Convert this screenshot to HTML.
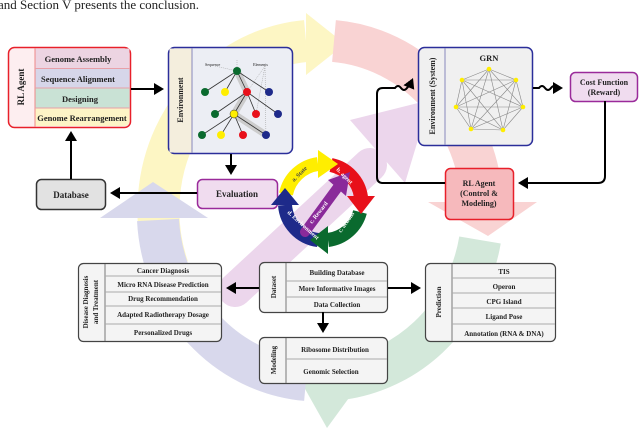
<!DOCTYPE html>
<html><head><meta charset="utf-8"><style>
html,body{margin:0;padding:0;background:#fff;width:640px;height:443px;overflow:hidden;}
svg{display:block;overflow:hidden;}
text{font-family:"Liberation Serif",serif;font-weight:bold;fill:#222;}
</style></head><body>
<svg width="640" height="443" viewBox="0 0 640 443" xmlns="http://www.w3.org/2000/svg">
<defs>
<marker id="ah" markerWidth="6" markerHeight="6" refX="4" refY="3" orient="auto" markerUnits="strokeWidth"><path d="M0,0 L5,3 L0,6 z" fill="#000"/></marker>
</defs>
<text x="-2" y="9" font-size="13" style="font-weight:normal" fill="#222">and Section V presents the conclusion.</text>

<g>
<path d="M168,268 A162,170 0 0 1 306,41" fill="none" stroke="#fdf6c4" stroke-width="42"/>
<polygon points="306,13 345,44 306,75" fill="#fdf6c4"/>
<path d="M334,41 A162,170 0 0 1 482,204" fill="none" stroke="#f9d3d3" stroke-width="42"/>
<polygon points="428,202 537,202 488,236" fill="#f9d3d3"/>
<path d="M480,240 A162,170 0 0 1 331,380" fill="none" stroke="#d3e8da" stroke-width="42"/>
<polygon points="300,380 362,380 327,428" fill="#d3e8da"/>
<path d="M306,380 A162,170 0 0 1 158,220" fill="none" stroke="#d8d8ec" stroke-width="42"/>
<polygon points="100,218 208,218 153,182" fill="#d8d8ec"/>
<line x1="235" y1="290" x2="370" y2="165" stroke="#ecd6ec" stroke-width="34" stroke-linecap="round"/>
<polygon points="350,120 430,100 405,183" fill="#ecd6ec"/>
</g>

<!-- RL Agent box -->
<rect x="8.5" y="47.5" width="122" height="80" rx="6" fill="#fdeef0" stroke="#e8202a" stroke-width="1.5"/>
<rect x="35" y="48.5" width="94.5" height="20" fill="#ecd4e2"/>
<rect x="35" y="68.5" width="94.5" height="19.5" fill="#d6d6e9"/>
<rect x="35" y="88" width="94.5" height="20" fill="#c9e2d5"/>
<path d="M35,108 H129.5 V121 a5,5 0 0 1 -5,5 H35z" fill="#fdf4c6"/>
<line x1="35" y1="48" x2="35" y2="127" stroke="#e88" />
<g stroke="#e8a0a8" stroke-width="1"><line x1="35" y1="68.5" x2="130" y2="68.5"/><line x1="35" y1="88" x2="130" y2="88"/><line x1="35" y1="108" x2="130" y2="108"/></g>
<text x="24" y="87" font-size="9" text-anchor="middle" transform="rotate(-90 24 87)">RL Agent</text>
<g font-size="8.5" text-anchor="middle"><text x="78" y="62">Genome Assembly</text><text x="78" y="82">Sequence Alignment</text><text x="80" y="102">Designing</text><text x="82" y="121">Genome Rearrangement</text></g>
<line x1="131" y1="89" x2="162" y2="89" stroke="#000" stroke-width="2" marker-end="url(#ah)"/>

<!-- Environment box -->
<rect x="168.5" y="47.5" width="124" height="106" rx="6" fill="#eceef4" stroke="#2b2e9a" stroke-width="1.5"/>
<rect x="169.5" y="48.5" width="22" height="104" fill="#f4eedd"/>
<line x1="192" y1="48" x2="192" y2="153" stroke="#8888bb"/>
<text x="183" y="100" font-size="8" text-anchor="middle" transform="rotate(-90 183 100)">Environment</text>
<text x="205" y="66" font-size="4" style="font-weight:normal">Sequence</text>
<text x="253" y="66" font-size="4" style="font-weight:normal">Elements</text>
<path d="M237,71 L247,92 L234,114 L266,135" fill="none" stroke="#ccc" stroke-width="7" stroke-linecap="round" stroke-linejoin="round"/>
<g stroke="#999" stroke-width="0.5" stroke-dasharray="1,1"><line x1="237" y1="60" x2="237" y2="71"/><line x1="265" y1="66" x2="247" y2="92"/><line x1="265" y1="66" x2="256" y2="114"/><line x1="265" y1="66" x2="266" y2="140"/><line x1="215" y1="66" x2="237" y2="71"/></g>
<g stroke="#333" stroke-width="0.8">
<line x1="237" y1="71" x2="205" y2="92"/><line x1="237" y1="71" x2="225" y2="92"/><line x1="237" y1="71" x2="247" y2="92"/><line x1="237" y1="71" x2="269" y2="92"/>
<line x1="247" y1="92" x2="215" y2="114"/><line x1="247" y1="92" x2="234" y2="114"/><line x1="247" y1="92" x2="256" y2="114"/><line x1="247" y1="92" x2="278" y2="114"/>
<line x1="234" y1="114" x2="202" y2="135"/><line x1="234" y1="114" x2="221" y2="135"/><line x1="234" y1="114" x2="243" y2="135"/><line x1="234" y1="114" x2="266" y2="135"/>
</g>
<g>
<circle cx="237" cy="71" r="4" fill="#0a6a2e"/>
<circle cx="205" cy="92" r="4" fill="#0a6a2e"/><circle cx="225" cy="92" r="4" fill="#ffee00"/><circle cx="247" cy="92" r="4" fill="#e8101a"/><circle cx="269" cy="92" r="4" fill="#1e2a8a"/>
<circle cx="215" cy="114" r="4" fill="#0a6a2e"/><circle cx="234" cy="114" r="4" fill="#ffee00" stroke="#333" stroke-width="0.5"/><circle cx="256" cy="114" r="4" fill="#e8101a"/><circle cx="278" cy="114" r="4" fill="#1e2a8a"/>
<circle cx="202" cy="135" r="4" fill="#0a6a2e"/><circle cx="221" cy="135" r="4" fill="#ffee00"/><circle cx="243" cy="135" r="4" fill="#e8101a"/><circle cx="266" cy="135" r="4" fill="#1e2a8a"/>
</g>
<line x1="231" y1="154" x2="231" y2="173" stroke="#000" stroke-width="2" marker-end="url(#ah)"/>

<!-- Evaluation -->
<rect x="197.5" y="179.5" width="80" height="29" rx="5" fill="#f0dcef" stroke="#9a2a9a" stroke-width="1.5"/>
<text x="237" y="197" font-size="9" text-anchor="middle">Evaluation</text>
<line x1="197" y1="193" x2="112" y2="193" stroke="#000" stroke-width="2" marker-end="url(#ah)"/>
<!-- Database -->
<rect x="36.5" y="179.5" width="69" height="30" rx="5" fill="#e2e2e2" stroke="#333" stroke-width="1.5"/>
<text x="71" y="198" font-size="9" text-anchor="middle">Database</text>
<line x1="71" y1="179" x2="71" y2="133" stroke="#000" stroke-width="2" marker-end="url(#ah)"/>

<!-- GRN -->
<rect x="418.5" y="47.5" width="114" height="98" rx="6" fill="#f0f0f0" stroke="#2b2e9a" stroke-width="1.5"/>
<line x1="445" y1="48" x2="445" y2="145" stroke="#8888bb"/>
<text x="435" y="96" font-size="8" text-anchor="middle" transform="rotate(-90 435 96)">Environment (System)</text>
<text x="489" y="61" font-size="8.5" text-anchor="middle">GRN</text>
<g stroke="#888" stroke-width="0.6" fill="none">
<path d="M489,69 L462,80 M489,69 L516,80 M489,69 L456,107 M489,69 L523,107 M489,69 L471,129 M489,69 L503,130
M462,80 L516,80 M462,80 L456,107 M462,80 L523,107 M462,80 L471,129 M462,80 L503,130
M516,80 L456,107 M516,80 L523,107 M516,80 L471,129 M516,80 L503,130
M456,107 L523,107 M456,107 L471,129 M456,107 L503,130
M523,107 L471,129 M523,107 L503,130 M471,129 L503,130"/>
</g>
<g fill="#ffee00"><circle cx="489" cy="69" r="2.3"/><circle cx="462" cy="80" r="2.3"/><circle cx="516" cy="80" r="2.3"/><circle cx="456" cy="107" r="2.3"/><circle cx="523" cy="107" r="2.3"/><circle cx="471" cy="129" r="2.3"/><circle cx="503" cy="130" r="2.3"/></g>

<!-- Cost function -->
<rect x="570.5" y="72.5" width="67" height="29" rx="5" fill="#f0dcef" stroke="#9a2a9a" stroke-width="1.5"/>
<text x="604" y="85" font-size="8" text-anchor="middle">Cost Function</text>
<text x="604" y="95" font-size="8" text-anchor="middle">(Reward)</text>
<!-- RL agent red -->
<rect x="445.5" y="168.5" width="68" height="51" rx="5" fill="#f6b9bc" stroke="#e8202a" stroke-width="1.5"/>
<text x="479" y="186" font-size="8" text-anchor="middle">RL Agent</text>
<text x="479" y="196" font-size="8" text-anchor="middle">(Control &amp;</text>
<text x="479" y="206" font-size="8" text-anchor="middle">Modeling)</text>
<path d="M445,183 H383 Q377,183 377,177 V94 Q377,88 383,88 H395 q3,-4 6,0 t6,0 t6,0" fill="none" stroke="#000" stroke-width="2" marker-end="url(#ah)"/>
<path d="M533,88 h6 q3,-4 6,0 t6,0 t6,0 h4" fill="none" stroke="#000" stroke-width="2" marker-end="url(#ah)"/>
<path d="M605,101 V176 Q605,183 598,183 H520" fill="none" stroke="#000" stroke-width="2" marker-end="url(#ah)"/>

<!-- small cycle center (323,202) r38 -->
<g fill="none" stroke-width="14">
<path d="M331,165 A38,38 0 0 1 361,197" stroke="#e8101a"/>
<path d="M360,212 A38,38 0 0 1 328,240" stroke="#0a6a2e"/>
<path d="M318,240 A38,38 0 0 1 285,205" stroke="#1e2a8a"/>
<path d="M286,194 A38,38 0 0 1 318,164" stroke="#ffee00"/>
</g>
<polygon points="318,150 338,164 318,178" fill="#ffee00"/>
<polygon points="347,196 375,196 361,214" fill="#e8101a"/>
<polygon points="328,226 310,240 328,254" fill="#0a6a2e"/>
<polygon points="271,205 299,205 285,188" fill="#1e2a8a"/>
<line x1="305" y1="232" x2="338" y2="187" stroke="#8a2a9a" stroke-width="10" stroke-linecap="round"/>
<polygon points="328,180 350,172 346,196" fill="#8a2a9a"/>
<g font-size="6">
<text x="294" y="182" transform="rotate(-45 294 182)" style="fill:#444">a. State</text>
<text x="336" y="170" transform="rotate(45 336 170)" style="fill:#fff">b. agent</text>
<text x="341" y="233" transform="rotate(-55 341 233)" style="fill:#fff">c. actions</text>
<text x="287" y="213" transform="rotate(42 287 213)" style="fill:#fff">d. Environment</text>
<text x="312" y="224" transform="rotate(-52 312 224)" style="fill:#fff">c. Reward</text>
</g>

<!-- Disease box -->
<rect x="78.5" y="263.5" width="143" height="78" rx="5" fill="#f4f4f4" stroke="#444" stroke-width="1.2"/>
<line x1="105" y1="264" x2="105" y2="341" stroke="#777"/>
<g stroke="#aaa"><line x1="105" y1="276" x2="221" y2="276"/><line x1="105" y1="292" x2="221" y2="292"/><line x1="105" y1="306" x2="221" y2="306"/><line x1="105" y1="324" x2="221" y2="324"/></g>
<text x="88" y="302" font-size="7" text-anchor="middle" transform="rotate(-90 88 302)">Disease Diagnosis</text>
<text x="98" y="302" font-size="7" text-anchor="middle" transform="rotate(-90 98 302)">and Treatment</text>
<g font-size="7" text-anchor="middle"><text x="163" y="273">Cancer Diagnosis</text><text x="163" y="287">Micro RNA Disease Prediction</text><text x="163" y="301">Drug Recommendation</text><text x="163" y="317">Adapted Radiotherapy Dosage</text><text x="163" y="335">Personalized Drugs</text></g>

<!-- Dataset -->
<rect x="259.5" y="262.5" width="128" height="50" rx="5" fill="#f4f4f4" stroke="#444" stroke-width="1.2"/>
<line x1="286" y1="263" x2="286" y2="312" stroke="#777"/>
<g stroke="#aaa"><line x1="286" y1="281" x2="387" y2="281"/><line x1="286" y1="297" x2="387" y2="297"/></g>
<text x="276" y="287" font-size="7" text-anchor="middle" transform="rotate(-90 276 287)">Dataset</text>
<g font-size="7" text-anchor="middle"><text x="337" y="275">Building Database</text><text x="337" y="291">More Informative Images</text><text x="337" y="307">Data Collection</text></g>
<line x1="259" y1="288" x2="228" y2="288" stroke="#000" stroke-width="2" marker-end="url(#ah)"/>
<line x1="388" y1="288" x2="419" y2="288" stroke="#000" stroke-width="2" marker-end="url(#ah)"/>
<line x1="323" y1="312" x2="323" y2="331" stroke="#000" stroke-width="2" marker-end="url(#ah)"/>

<!-- Prediction -->
<rect x="425.5" y="263.5" width="130" height="78" rx="5" fill="#f4f4f4" stroke="#444" stroke-width="1.2"/>
<line x1="452" y1="264" x2="452" y2="341" stroke="#777"/>
<g stroke="#aaa"><line x1="452" y1="278" x2="555" y2="278"/><line x1="452" y1="293" x2="555" y2="293"/><line x1="452" y1="308" x2="555" y2="308"/><line x1="452" y1="324" x2="555" y2="324"/></g>
<text x="441" y="302" font-size="7" text-anchor="middle" transform="rotate(-90 441 302)">Prediction</text>
<g font-size="7" text-anchor="middle"><text x="504" y="274">TIS</text><text x="504" y="289">Operon</text><text x="504" y="304">CPG Island</text><text x="504" y="319">Ligand Pose</text><text x="504" y="336">Annotation (RNA &amp; DNA)</text></g>

<!-- Modeling -->
<rect x="259.5" y="337.5" width="128" height="46" rx="5" fill="#f4f4f4" stroke="#444" stroke-width="1.2"/>
<line x1="286" y1="338" x2="286" y2="383" stroke="#777"/>
<line x1="286" y1="359" x2="387" y2="359" stroke="#aaa"/>
<text x="276" y="360" font-size="7" text-anchor="middle" transform="rotate(-90 276 360)">Modeling</text>
<g font-size="7" text-anchor="middle"><text x="335" y="352">Ribosome Distribution</text><text x="331" y="374">Genomic Selection</text></g>
</svg>
</body></html>
